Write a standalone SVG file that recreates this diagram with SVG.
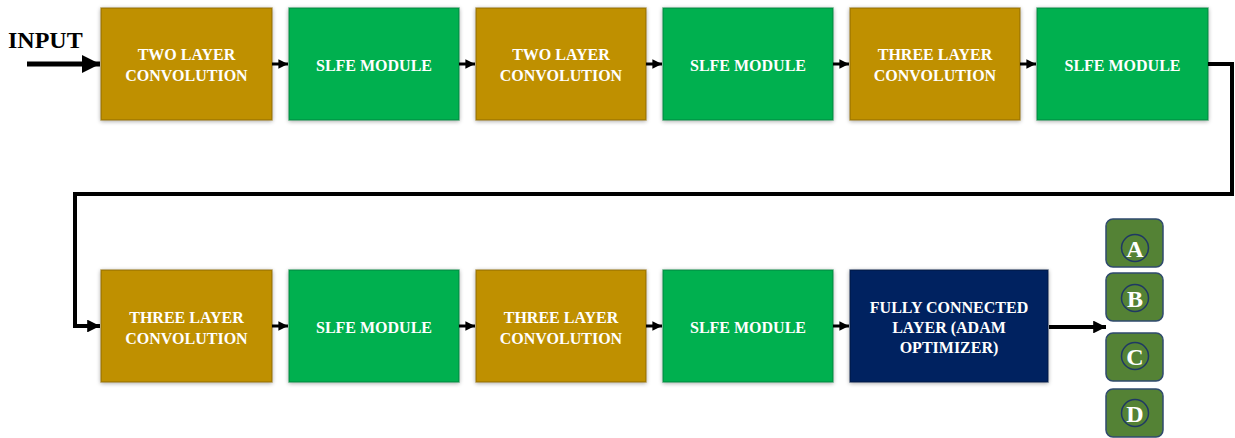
<svg xmlns="http://www.w3.org/2000/svg" width="1235" height="438" viewBox="0 0 1235 438">
<defs>
<filter id="sh" x="-10%" y="-10%" width="120%" height="120%">
<feGaussianBlur in="SourceAlpha" stdDeviation="2"/>
<feOffset dx="0" dy="1" result="b"/>
<feComponentTransfer><feFuncA type="linear" slope="0.35"/></feComponentTransfer>
<feMerge><feMergeNode/><feMergeNode in="SourceGraphic"/></feMerge>
</filter>
<marker id="ah" viewBox="0 0 10 10" refX="10" refY="5" markerWidth="3.2" markerHeight="3.2" orient="auto" markerUnits="strokeWidth">
<path d="M0,0 L10,5 L0,10 z" fill="#000"/>
</marker>
<marker id="ahb" viewBox="0 0 10 10" refX="10" refY="5" markerWidth="3.6" markerHeight="3.6" orient="auto" markerUnits="strokeWidth">
<path d="M0,0 L10,5 L0,10 z" fill="#000"/>
</marker>
</defs>
<style>
.gold{fill:#BF9000;stroke:#8a6800;stroke-width:1.5;stroke-opacity:0.6}
.green{fill:#00B050;stroke:#00803a;stroke-width:1.5;stroke-opacity:0.6}
.navy{fill:#002060;stroke:#001540;stroke-width:1.5;stroke-opacity:0.6}
.t{font-family:"Liberation Serif","Times New Roman",serif;font-weight:bold;font-size:16px;fill:#fff;text-anchor:middle}
.lb{fill:#548235;stroke:#2F4A6E;stroke-width:1.5}
.lc{fill:none;stroke:#1F3864;stroke-width:1.5}
.lt{font-family:"Liberation Serif","Times New Roman",serif;font-weight:bold;font-size:24px;fill:#fff;text-anchor:middle}
.c{fill:none;stroke:#000;stroke-width:3}
.cb{fill:none;stroke:#000;stroke-width:4}
</style>
<text x="8" y="48" font-family="Liberation Serif, Times New Roman, serif" font-weight="bold" font-size="24" fill="#000">INPUT</text>
<g id="n1"><rect x="101" y="8" width="171" height="112" class="gold" filter="url(#sh)"/><text class="t" x="186.5" y="60">TWO LAYER</text><text class="t" x="186.5" y="81">CONVOLUTION</text></g>
<g id="n2"><rect x="289" y="8" width="170" height="112" class="green" filter="url(#sh)"/><text class="t" x="374" y="71">SLFE MODULE</text></g>
<g id="n3"><rect x="476" y="8" width="170" height="112" class="gold" filter="url(#sh)"/><text class="t" x="561" y="60">TWO LAYER</text><text class="t" x="561" y="81">CONVOLUTION</text></g>
<g id="n4"><rect x="663" y="8" width="170" height="112" class="green" filter="url(#sh)"/><text class="t" x="748" y="71">SLFE MODULE</text></g>
<g id="n5"><rect x="850" y="8" width="170" height="112" class="gold" filter="url(#sh)"/><text class="t" x="935" y="60">THREE LAYER</text><text class="t" x="935" y="81">CONVOLUTION</text></g>
<g id="n6"><rect x="1037" y="8" width="171" height="112" class="green" filter="url(#sh)"/><text class="t" x="1122.5" y="71">SLFE MODULE</text></g>
<g id="n7"><rect x="101" y="270" width="171" height="112" class="gold" filter="url(#sh)"/><text class="t" x="186.5" y="323">THREE LAYER</text><text class="t" x="186.5" y="344">CONVOLUTION</text></g>
<g id="n8"><rect x="289" y="270" width="170" height="112" class="green" filter="url(#sh)"/><text class="t" x="374" y="333">SLFE MODULE</text></g>
<g id="n9"><rect x="476" y="270" width="170" height="112" class="gold" filter="url(#sh)"/><text class="t" x="561" y="323">THREE LAYER</text><text class="t" x="561" y="344">CONVOLUTION</text></g>
<g id="n10"><rect x="663" y="270" width="170" height="112" class="green" filter="url(#sh)"/><text class="t" x="748" y="333">SLFE MODULE</text></g>
<g id="n11"><rect x="850" y="270" width="198" height="112" class="navy" filter="url(#sh)"/><text class="t" x="949" y="313">FULLY CONNECTED</text><text class="t" x="949" y="333">LAYER (ADAM</text><text class="t" x="949" y="353">OPTIMIZER)</text></g>
<g id="oA"><rect x="1106" y="219" width="57" height="48" rx="7" class="lb"/><circle cx="1135" cy="248" r="13.5" class="lc"/><text class="lt" x="1135" y="257">A</text></g>
<g id="oB"><rect x="1106" y="273" width="57" height="48" rx="7" class="lb"/><circle cx="1135" cy="298" r="13.5" class="lc"/><text class="lt" x="1135" y="307">B</text></g>
<g id="oC"><rect x="1106" y="333" width="57" height="48" rx="7" class="lb"/><circle cx="1135" cy="356" r="13.5" class="lc"/><text class="lt" x="1135" y="365">C</text></g>
<g id="oD"><rect x="1106" y="389" width="57" height="48" rx="7" class="lb"/><circle cx="1135" cy="413" r="13.5" class="lc"/><text class="lt" x="1135" y="422">D</text></g>
<g id="connectors">
<line x1="27" y1="64" x2="100" y2="64" stroke="#000" stroke-width="5" marker-end="url(#ahb)"/>
<line x1="272" y1="64" x2="288" y2="64" class="c" marker-end="url(#ah)"/>
<line x1="459" y1="64" x2="475" y2="64" class="c" marker-end="url(#ah)"/>
<line x1="646" y1="64" x2="662" y2="64" class="c" marker-end="url(#ah)"/>
<line x1="833" y1="64" x2="849" y2="64" class="c" marker-end="url(#ah)"/>
<line x1="1020" y1="64" x2="1036" y2="64" class="c" marker-end="url(#ah)"/>
<path d="M1208,64 H1232 V194 H75 V326 H100" class="cb" marker-end="url(#ah)"/>
<line x1="272" y1="326" x2="288" y2="326" class="c" marker-end="url(#ah)"/>
<line x1="459" y1="326" x2="475" y2="326" class="c" marker-end="url(#ah)"/>
<line x1="646" y1="326" x2="662" y2="326" class="c" marker-end="url(#ah)"/>
<line x1="833" y1="326" x2="849" y2="326" class="c" marker-end="url(#ah)"/>
<line x1="1049" y1="327" x2="1106" y2="327" class="cb" marker-end="url(#ah)"/>
</g>
</svg>
